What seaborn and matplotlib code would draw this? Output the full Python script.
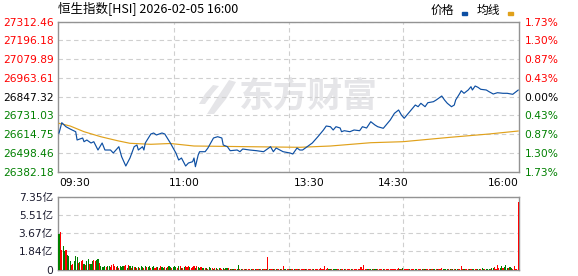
import matplotlib
matplotlib.use("Agg")
import matplotlib.pyplot as plt
import seaborn as sns
import pandas as pd
from matplotlib.patches import Rectangle, Polygon

# ---------------- data ----------------
title = "恒生指数[HSI] 2026-02-05 16:00"
legend_labels = ["价格", "均线"]
watermark = "东方财富"
prev_close = 26847.32
price_ticks = [26382.18, 26498.46, 26614.75, 26731.03, 26847.32,
               26963.61, 27079.89, 27196.18, 27312.46]
pct_labels = ["1.73%", "1.30%", "0.87%", "0.43%", "0.00%",
              "0.43%", "0.87%", "1.30%", "1.73%"]
time_labels = ["09:30", "11:00", "13:30", "14:30", "16:00"]
time_label_pos = [0, 90, 180, 240, 330]
grid_pos = [82.5, 165, 247.5]
vol_ticks = [0, 1.84, 3.67, 5.51, 7.35]
vol_labels = ["0", "1.84亿", "3.67亿", "5.51亿", "7.35亿"]

price_min = [0, 2, 5, 8, 12, 13, 17, 18, 20, 23,
             25, 28, 31, 33, 37, 39, 43, 45, 48, 51,
             54, 56, 57, 60, 61, 62, 66, 68, 70, 74,
             76, 80, 84, 86, 88, 91, 93, 96, 97, 98,
             100, 101, 105, 107, 109, 111, 114, 117, 118, 121,
             123, 128, 130, 132, 137, 142, 147, 152, 154, 156,
             161, 166, 168, 171, 173, 175, 179, 182, 186, 190,
             192, 195, 197, 199, 202, 203, 205, 209, 212, 216,
             218, 221, 224, 227, 229, 233, 235, 238, 241, 244,
             246, 248, 251, 253, 256, 258, 260, 263, 265, 269,
             271, 275, 277, 279, 282, 284, 285, 288, 289, 291,
             294, 296, 297, 299, 301, 303, 307, 309, 312, 315,
             319, 322, 326, 330]
price = [26620.3, 26686.1, 26661.2, 26647.0, 26630.2, 26578.8, 26591.2, 26568.2, 26578.8, 26560.2,
         26568.2, 26516.7, 26560.2, 26516.7, 26516.7, 26498.1, 26537.2, 26475.2, 26417.5, 26467.1,
         26537.2, 26547.7, 26516.7, 26537.2, 26516.7, 26560.2, 26616.0, 26622.2, 26609.8, 26622.2,
         26616.0, 26560.2, 26498.1, 26454.7, 26467.1, 26417.5, 26436.1, 26444.2, 26467.1, 26413.2,
         26485.7, 26506.2, 26506.2, 26529.1, 26560.2, 26591.2, 26599.2, 26591.2, 26547.7, 26537.2,
         26512.4, 26516.7, 26506.2, 26522.9, 26516.7, 26512.4, 26506.2, 26537.2, 26506.2, 26529.1,
         26506.2, 26498.1, 26491.9, 26529.1, 26516.7, 26516.7, 26541.5, 26560.2, 26599.2, 26640.8,
         26665.6, 26661.2, 26640.8, 26661.2, 26653.2, 26630.2, 26636.4, 26630.2, 26640.8, 26636.4,
         26661.2, 26653.2, 26692.3, 26671.8, 26661.2, 26651.3, 26671.8, 26702.8, 26744.3, 26764.8,
         26733.8, 26713.3, 26744.3, 26764.8, 26795.8, 26785.3, 26806.4, 26785.3, 26810.1, 26816.3,
         26826.8, 26851.6, 26826.8, 26806.4, 26785.3, 26795.8, 26826.8, 26868.4, 26884.5, 26868.4,
         26888.9, 26909.3, 26888.9, 26913.7, 26905.6, 26893.2, 26888.9, 26878.3, 26864.0, 26872.1,
         26868.4, 26868.4, 26862.2, 26888.9]

avg_min = [0, 8, 18, 30, 42, 51, 66, 80, 97, 137, 173, 195, 224, 247, 281, 309, 330]
avg_price = [26682.3, 26665.6, 26630.2, 26599.2, 26574.4, 26558.3, 26552.1, 26557.1, 26541.5,
             26537.2, 26533.5, 26541.5, 26562.0, 26568.2, 26595.5, 26616.0, 26634.6]

# volume per minute (亿), and direction (r = up, g = down)
volume = [3.57, 3.80, 1.94, 2.35, 1.84, 1.94, 1.43, 1.33, 0.92, 0.51,
          0.61, 0.85, 1.33, 1.26, 0.68, 0.75, 0.85, 0.95, 0.61, 0.51,
          0.85, 1.12, 0.61, 0.61, 0.85, 0.95, 0.92, 0.95, 1.05, 0.68,
          0.41, 0.31, 0.31, 0.41, 0.27, 0.34, 0.41, 0.31, 0.51, 0.61,
          0.34, 0.24, 0.37, 0.14, 0.37, 0.30, 0.34, 0.41, 0.51, 0.17,
          0.51, 0.34, 0.20, 0.37, 0.25, 0.30, 0.22, 0.28, 0.20, 0.33,
          0.27, 0.22, 0.41, 0.30, 0.24, 0.35, 0.20, 0.28, 0.41, 0.22,
          0.30, 0.26, 0.18, 0.36, 0.24, 0.20, 0.30, 0.22, 0.27, 0.35,
          0.28, 0.22, 0.30, 0.41, 0.24, 0.20, 0.41, 0.33, 0.22, 0.18,
          0.27, 0.41, 0.30, 0.36, 0.24, 0.20, 0.28, 0.33, 0.22, 0.41,
          0.25, 0.20, 0.30, 0.18, 0.22, 0.15, 0.20, 0.12, 0.24, 0.15,
          0.18, 0.12, 0.20, 0.15, 0.10, 0.18, 0.22, 0.12, 0.15, 0.10,
          0.15, 0.20, 0.15, 0.12, 0.10, 0.12, 0.08, 0.10, 0.12, 0.51,
          0.10, 0.08, 0.07, 0.10, 0.08, 0.06, 0.10, 0.08, 0.07, 0.06,
          0.08, 0.10, 0.07, 0.09, 0.06, 0.08, 0.10, 0.08, 0.06, 0.08,
          1.26, 0.08, 0.06, 0.07, 0.05, 0.08, 0.06, 0.07, 0.05, 0.06,
          0.07, 0.34, 0.06, 0.07, 0.05, 0.06, 0.08, 0.05, 0.06, 0.07,
          0.05, 0.06, 0.05, 0.07, 0.06, 0.05, 0.07, 0.06, 0.05, 0.06,
          0.07, 0.05, 0.06, 0.07, 0.05, 0.08, 0.06, 0.12, 0.15, 0.06,
          0.05, 0.41, 0.08, 0.20, 0.06, 0.05, 0.07, 0.05, 0.06, 0.07,
          0.05, 0.06, 0.05, 0.07, 0.06, 0.08, 0.05, 0.06, 0.07, 0.05,
          0.06, 0.07, 0.05, 0.06, 0.08, 0.06, 0.05, 0.31, 0.08, 0.51,
          0.06, 0.05, 0.07, 0.06, 0.05, 0.07, 0.06, 0.05, 0.08, 0.06,
          0.05, 0.07, 0.06, 0.05, 0.07, 0.06, 0.05, 0.07, 0.06, 0.05,
          0.08, 0.06, 0.07, 0.05, 0.20, 0.06, 0.05, 0.20, 0.06, 0.05,
          0.07, 0.06, 0.08, 0.05, 0.07, 0.10, 0.06, 0.12, 0.05, 0.08,
          0.10, 0.06, 0.10, 0.05, 0.08, 0.06, 0.07, 0.10, 0.05, 0.06,
          0.08, 0.06, 0.07, 0.05, 0.08, 0.20, 0.06, 0.10, 0.05, 0.07,
          0.06, 0.08, 0.05, 0.07, 0.06, 0.10, 0.12, 0.07, 0.05, 0.41,
          0.06, 0.08, 0.10, 0.06, 0.12, 0.10, 0.08, 0.12, 0.10, 0.06,
          0.08, 0.12, 0.10, 0.08, 0.15, 0.12, 0.08, 0.10, 0.12, 0.08,
          0.10, 0.20, 0.15, 0.24, 0.12, 0.51, 0.20, 0.15, 0.34, 0.20,
          0.24, 0.51, 0.20, 0.15, 0.24, 0.20, 0.12, 0.41, 0.10, 0.08,
          6.86]
vol_dir = ("grrggrgggr" "rgggrgrrgr" "ggrggrrggr" "ggggrggrrr" "rrgrgggrrg"
           "rgrgrgrgrg" "grgrggrggr" "rgrrggrgrg" "grgggrgrgr" "grrrgrrrgr"
           "ggrggrgrgg" "rgrgrgrrgr" "ggrgrgrrgg" "rgrrgrrrgr" "rgrrgrgrrg"
           "rgrrgrgrrg" "rrggrrgrrg" "rrgrrrrgrr" "rrrgrrrrrr" "rrrrggrggg"
           "rrgrrgrrrr" "grrrrrrrrr" "rrgrggrggr" "rrrgrrrrrr" "rrrrrgrgrr"
           "rrgrrrggrr" "rgrgrrrgrg" "grgrrrgggg" "rgrgrggrrr" "rgrrrgrggr"
           "rggrggrggg" "rggrrrrggr" "gggrggrrrr" "r")

# ---------------- style ----------------
sns.set_style("white")
plt.rcParams["font.family"] = ["DejaVu Sans", "Noto Sans CJK SC"]
CJK = ["Noto Sans CJK SC", "DejaVu Sans"]

BLUE = "#0d4fa3"
ORANGE = "#e0a11b"
RED = "#ff0000"
GREEN = "#008000"
SPINE = "#939393"
GRID = "#cfcfcf"
WM = "#e5e5e8"
FS = 7.7

W, H = 578, 276
fig = plt.figure(figsize=(W / 100, H / 100), dpi=100)

L, R = 58.3, 519.0
ax = fig.add_axes([L / W, 1 - 171.7 / H, (R - L) / W, 150 / H])
axv = fig.add_axes([L / W, 1 - 269.7 / H, (R - L) / W, (269.7 - 196.7) / H])


def px(x, y):
    """figure-pixel position -> axes fraction of the price panel"""
    return ((x - L) / (R - L), (171.7 - y) / 150.0)


# watermark (logo + text)
ax.text(px(308, 96)[0], px(308, 96)[1], watermark, transform=ax.transAxes,
        ha="center", va="center", fontsize=25, color=WM, fontweight="bold",
        family=CJK, zorder=0.1)
logo_big = [px(207, 114), px(214, 114), px(226, 99), px(236, 82), px(229, 80), px(219, 95)]
logo_small = [px(199, 104), px(205, 104), px(213, 93), px(219, 86), px(213, 85), px(205, 94)]
for pts in (logo_big, logo_small):
    ax.add_patch(Polygon(pts, closed=True, transform=ax.transAxes,
                         facecolor=WM, edgecolor="none", zorder=0.1))

# price & average lines
sns.lineplot(x=avg_min, y=avg_price, ax=ax, color=ORANGE, linewidth=0.85,
             estimator=None, sort=False, zorder=3)
sns.lineplot(x=price_min, y=price, ax=ax, color=BLUE, linewidth=0.85,
             estimator=None, sort=False, zorder=4)

xmin, xmax = -0.5, 330.5
ax.set_xlim(xmin, xmax)
ax.set_ylim(price_ticks[0], price_ticks[-1])
ax.set_xlabel("")
ax.set_ylabel("")
ax.set_yticks(price_ticks)
ax.set_yticklabels([f"{v:.2f}" for v in price_ticks])
ax.yaxis.grid(True, color=GRID, linestyle=(0, (4, 3)), linewidth=0.8)
ax.set_axisbelow(True)
for g in grid_pos:
    ax.axvline(g, color=GRID, linestyle=(0, (4, 3)), linewidth=0.8, zorder=0.5)
for v, lab in zip(price_ticks, ax.get_yticklabels()):
    lab.set_color(RED if v > prev_close + 1e-6 else (GREEN if v < prev_close - 1e-6 else "black"))
ax.tick_params(axis="y", length=0, pad=3, labelsize=FS)

ax.set_xticks(time_label_pos)
ax.set_xticklabels(time_labels)
ax.tick_params(axis="x", length=0, pad=4.5, labelsize=FS, colors="black")
xl = ax.get_xticklabels()
xl[0].set_horizontalalignment("left")
xl[-1].set_horizontalalignment("right")

for s in ax.spines.values():
    s.set_color(SPINE)
    s.set_linewidth(1.0)

# right percent axis
axr = ax.twinx()
axr.set_ylim(ax.get_ylim())
axr.set_yticks(price_ticks)
axr.set_yticklabels(pct_labels)
for v, lab in zip(price_ticks, axr.get_yticklabels()):
    lab.set_color(RED if v > prev_close + 1e-6 else (GREEN if v < prev_close - 1e-6 else "black"))
axr.tick_params(axis="y", length=0, pad=4, labelsize=FS)
for s in axr.spines.values():
    s.set_visible(False)

# volume bars
n = min(len(volume), len(vol_dir))
vdf = pd.DataFrame({
    "minute": list(range(n)),
    "volume": volume[:n],
    "dir": ["up" if c == "r" else "down" for c in vol_dir[:n]],
})
sns.barplot(data=vdf, x="minute", y="volume", hue="dir",
            palette={"up": RED, "down": GREEN}, native_scale=True, dodge=False,
            width=0.8, saturation=1, linewidth=0, errorbar=None, legend=False,
            ax=axv, zorder=3)
axv.set_xlim(xmin, xmax)
axv.set_ylim(0, vol_ticks[-1])
axv.set_xlabel("")
axv.set_ylabel("")
axv.set_yticks(vol_ticks)
axv.set_yticklabels(vol_labels)
axv.set_xticks([])
axv.yaxis.grid(True, color=GRID, linestyle=(0, (4, 3)), linewidth=0.8)
for g in grid_pos:
    axv.axvline(g, color=GRID, linestyle=(0, (4, 3)), linewidth=0.8, zorder=0.5)
axv.set_axisbelow(True)
axv.tick_params(axis="y", length=0, pad=4, labelsize=FS, colors="#1a1a2e")
for s in axv.spines.values():
    s.set_color(SPINE)
    s.set_linewidth(1.0)

# title & legend
fig.text(L / W, 1 - 9 / H, title, ha="left", va="center", fontsize=9,
         family=CJK, color="black")
fig.text(431 / W, 1 - 10 / H, legend_labels[0], ha="left", va="center",
         fontsize=8.5, family=CJK, color="black")
fig.text(476.5 / W, 1 - 10 / H, legend_labels[1], ha="left", va="center",
         fontsize=8.5, family=CJK, color="black")
fig.patches.append(Rectangle((462 / W, 1 - 15 / H), 4.5 / W, 2.5 / H,
                             transform=fig.transFigure, color=BLUE, figure=fig))
fig.patches.append(Rectangle((508 / W, 1 - 15 / H), 4.5 / W, 2.5 / H,
                             transform=fig.transFigure, color=ORANGE, figure=fig))

fig.savefig("out.png", dpi=100)
